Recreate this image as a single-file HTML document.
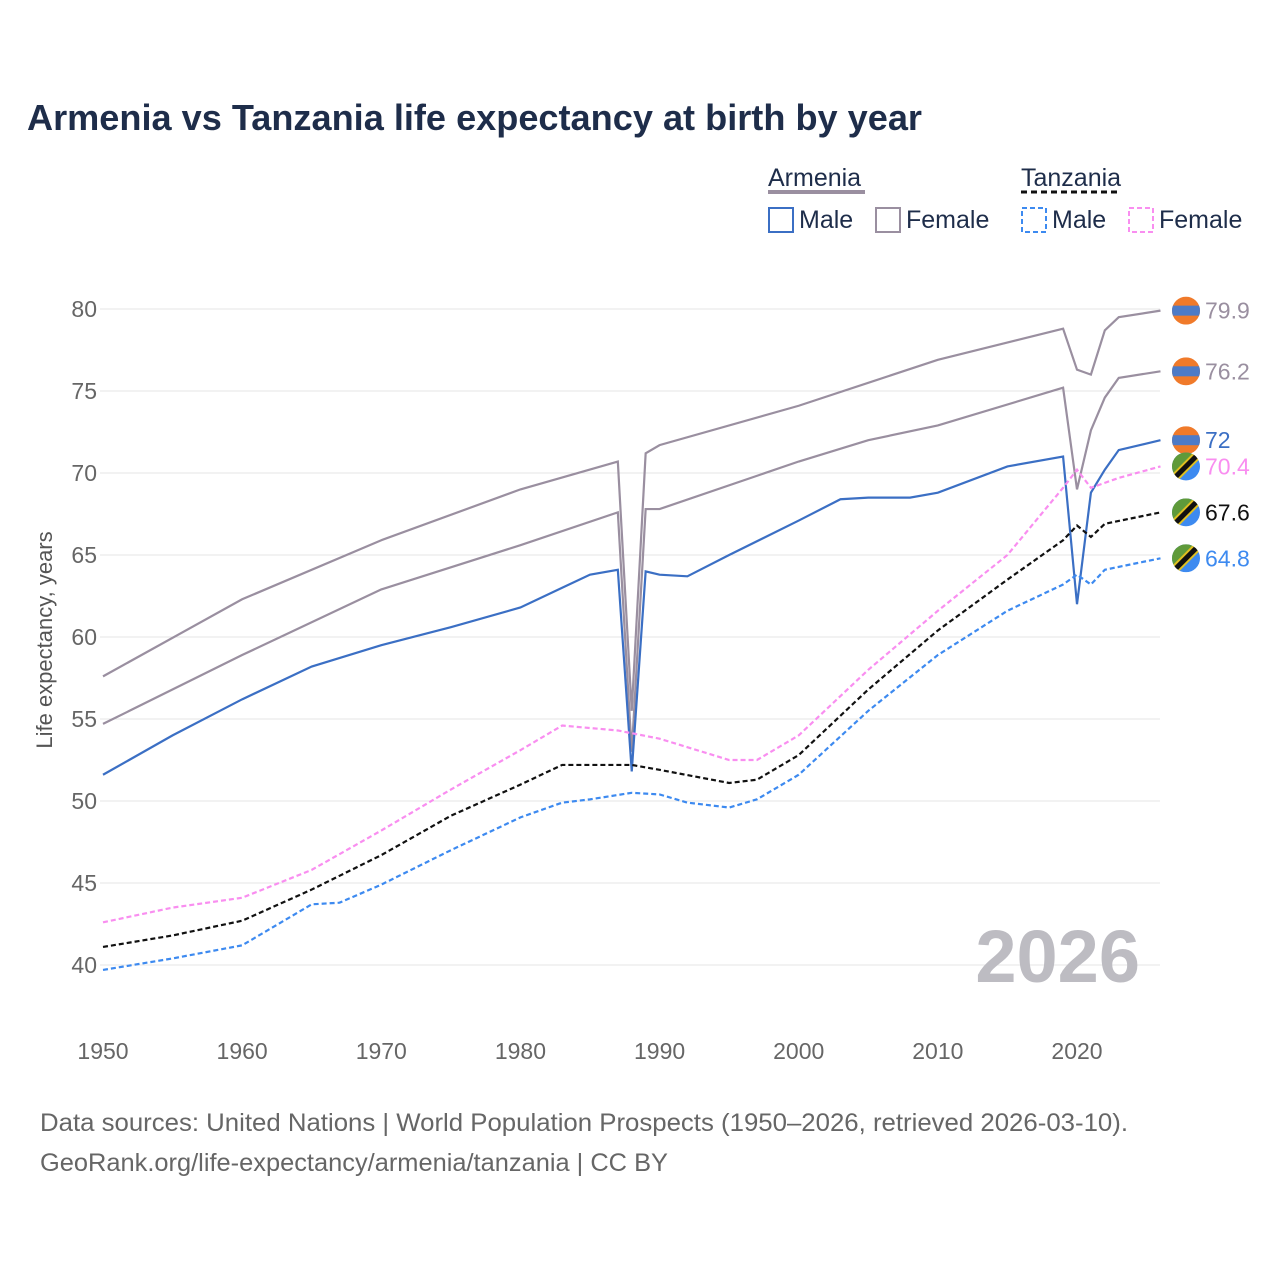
<!DOCTYPE html>
<html><head><meta charset="utf-8"><style>
body{margin:0;background:#fff;font-family:"Liberation Sans",sans-serif}
svg text{font-family:"Liberation Sans",sans-serif}
</style></head><body>
<svg id="c" width="1280" height="1280" viewBox="0 0 1280 1280">
<rect width="1280" height="1280" fill="#fff"/>
<text x="27" y="130" font-size="36" font-weight="bold" fill="#1e2d4a" textLength="895" lengthAdjust="spacingAndGlyphs">Armenia vs Tanzania life expectancy at birth by year</text>
<g font-size="25" fill="#1e2d4a">
<text x="768" y="186">Armenia</text>
<line x1="768" y1="192" x2="865" y2="192" stroke="#9a8fa0" stroke-width="4"/>
<rect x="769" y="208" width="24" height="24" fill="none" stroke="#3b6fc4" stroke-width="2"/>
<text x="799" y="228">Male</text>
<rect x="876" y="208" width="24" height="24" fill="none" stroke="#9a8fa0" stroke-width="2"/>
<text x="906" y="228">Female</text>
<text x="1021" y="186">Tanzania</text>
<line x1="1021" y1="192" x2="1120" y2="192" stroke="#111" stroke-width="3" stroke-dasharray="6,4"/>
<rect x="1022" y="208" width="24" height="24" fill="none" stroke="#3d8af0" stroke-width="2" stroke-dasharray="5,3"/>
<text x="1052" y="228">Male</text>
<rect x="1129" y="208" width="24" height="24" fill="none" stroke="#f98ef0" stroke-width="2" stroke-dasharray="5,3"/>
<text x="1159" y="228">Female</text>
</g>
<g id="grid"></g>
<text x="1140" y="982" font-size="74" font-weight="bold" fill="#bdbcc2" text-anchor="end">2026</text>
<g id="lines"></g>
<g id="ends"></g>
<text transform="translate(52,640) rotate(-90)" font-size="22" fill="#555" text-anchor="middle">Life expectancy, years</text>
<text x="40" y="1131" font-size="25" fill="#666" textLength="1088" lengthAdjust="spacingAndGlyphs">Data sources: United Nations | World Population Prospects (1950–2026, retrieved 2026-03-10).</text>
<text x="40" y="1171" font-size="25" fill="#666" textLength="628" lengthAdjust="spacingAndGlyphs">GeoRank.org/life-expectancy/armenia/tanzania | CC BY</text>
</svg>
<script>
const yTicks=[40,45,50,55,60,65,70,75,80];
const xTicks=[1950,1960,1970,1980,1990,2000,2010,2020];
const armFemYears=[1950,1960,1970,1980,1987,1988,1989,1990,2000,2010,2019,2020,2021,2022,2023,2026];
const armFemVals=[57.6,62.3,65.9,69.0,70.7,55.5,71.2,71.7,74.1,76.9,78.8,76.3,76.0,78.7,79.5,79.9];
const armTotYears=[1950,1960,1970,1980,1987,1988,1989,1990,2000,2005,2010,2019,2020,2021,2022,2023,2026];
const armTotVals=[54.7,58.9,62.9,65.6,67.6,53.0,67.8,67.8,70.7,72.0,72.9,75.2,69.0,72.6,74.6,75.8,76.2];
const armMaleYears=[1950,1955,1960,1965,1970,1975,1980,1983,1985,1987,1988,1989,1990,1992,1995,2000,2003,2005,2008,2010,2015,2019,2020,2021,2022,2023,2026];
const armMaleVals=[51.6,54.0,56.2,58.2,59.5,60.6,61.8,63.0,63.8,64.1,51.8,64.0,63.8,63.7,65.0,67.1,68.4,68.5,68.5,68.8,70.4,71.0,62.0,68.8,70.2,71.4,72.0];
const tzFemYears=[1950,1955,1960,1965,1970,1975,1980,1983,1987,1990,1995,1997,2000,2005,2010,2015,2019,2020,2021,2023,2026];
const tzFemVals=[42.6,43.5,44.1,45.8,48.2,50.7,53.1,54.6,54.3,53.8,52.5,52.5,54.0,58.0,61.6,65.0,69.1,70.2,69.1,69.7,70.4];
const tzTotYears=[1950,1955,1960,1965,1970,1975,1980,1983,1988,1990,1995,1997,2000,2005,2010,2015,2019,2020,2021,2022,2026];
const tzTotVals=[41.1,41.8,42.7,44.6,46.7,49.1,51.0,52.2,52.2,51.9,51.1,51.3,52.8,56.8,60.4,63.5,65.9,66.8,66.1,66.9,67.6];
const tzMaleYears=[1950,1955,1960,1965,1967,1970,1975,1980,1983,1985,1988,1990,1992,1995,1997,2000,2005,2010,2015,2019,2020,2021,2022,2026];
const tzMaleVals=[39.7,40.4,41.2,43.7,43.8,44.9,47.0,49.0,49.9,50.1,50.5,50.4,49.9,49.6,50.1,51.6,55.5,58.9,61.6,63.2,63.8,63.2,64.1,64.8];
const X=y=>103+(y-1950)*974/70;
const Y=v=>309+(80-v)*16.4;
const NS="http://www.w3.org/2000/svg";
function mk(t,a,p){const e=document.createElementNS(NS,t);for(const k in a)e.setAttribute(k,a[k]);p.appendChild(e);return e;}
const grid=document.getElementById('grid');
yTicks.forEach(v=>{
 const l=mk('line',{x1:100,x2:1160,y1:Y(v),y2:Y(v),stroke:'#e6e6e6','stroke-width':1},grid);
 
 
 const t=mk('text',{x:97,y:Y(v)+8,'font-size':23,fill:'#666','text-anchor':'end'},grid);
 t.textContent=v;
 
 
});
xTicks.forEach(y=>{
 const t=mk('text',{x:X(y),y:1059,'font-size':23,fill:'#666','text-anchor':'middle'},grid);
 t.textContent=y;
 
 
});
const series=[
 ['armenia-female',armFemYears,armFemVals,'#9a8fa0','',79.9,'arm'],
 ['armenia-total',armTotYears,armTotVals,'#9a8fa0','',76.2,'arm'],
 ['armenia-male',armMaleYears,armMaleVals,'#3b6fc4','',72,'arm'],
 ['tanzania-female',tzFemYears,tzFemVals,'#f98ef0','5,3',70.4,'tz'],
 ['tanzania-total',tzTotYears,tzTotVals,'#111','5,3',67.6,'tz'],
 ['tanzania-male',tzMaleYears,tzMaleVals,'#3d8af0','5,3',64.8,'tz']];
const lines=document.getElementById('lines'),ends=document.getElementById('ends');
series.forEach(([n,ys,vs,c,d,lab,f],i)=>{
 const p=mk('polyline',{points:ys.map((y,j)=>X(y)+','+Y(vs[j])).join(' '),fill:'none',stroke:c,'stroke-width':2.2,'stroke-dasharray':d||'none'},lines);
 
 
 const cy=Y(vs[vs.length-1]),g=mk('g',{},ends);
 
 
 const id='fc'+i;
 const cp=mk('clipPath',{id:id},g);
 mk('circle',{cx:1186,cy:cy,r:14},cp);
 const fg=mk('g',{'clip-path':'url(#'+id+')'},g);
 if(f==='arm'){
  mk('rect',{x:1172,y:cy-14,width:28,height:28,fill:'#f07a2a'},fg);
  mk('rect',{x:1172,y:cy-5,width:28,height:10,fill:'#4d7bc7'},fg);
 }else{
  mk('rect',{x:1172,y:cy-14,width:28,height:28,fill:'#3d8af0'},fg);
  mk('path',{d:`M1172 ${cy+14} L1172 ${cy-14} L1200 ${cy-14} Z`,fill:'#5f9a3a'},fg);
  mk('line',{x1:1172,y1:cy+14,x2:1200,y2:cy-14,stroke:'#e0c020','stroke-width':9},fg);
  mk('line',{x1:1172,y1:cy+14,x2:1200,y2:cy-14,stroke:'#111','stroke-width':5},fg);
 }
 const t=mk('text',{x:1205,y:cy+8,'font-size':23,fill:c},g);
 t.textContent=lab;
});
</script>
</body></html>
